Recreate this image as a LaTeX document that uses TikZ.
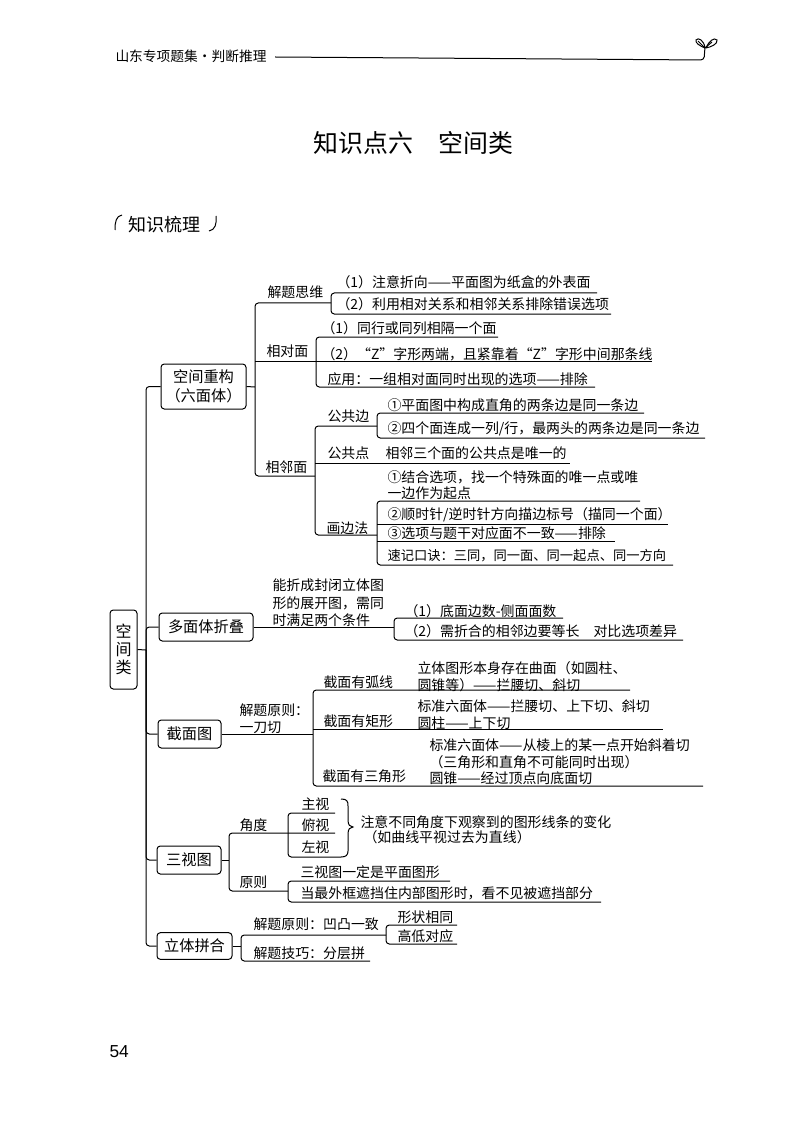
\documentclass[tikz,border=0pt]{standalone}
\usepackage{fontspec}
\setmainfont{Noto Sans CJK SC}
\newfontfamily\pagenofont{Liberation Sans}
\tikzset{every picture/.style={line width=0.75pt}}
\tikzset{
  box/.style={draw,rounded corners=2.5pt,inner sep=0pt,align=center,font=\fontsize{11.4}{14.2}\selectfont},
  txt/.style={anchor=west,inner sep=0pt,text height=9pt,text depth=1.5pt,font=\fontsize{10.45}{12}\selectfont},
  branch/.style={rounded corners=2.5pt}
}
\begin{document}
\begin{tikzpicture}[x=0.75pt,y=0.75pt,yscale=-1,xscale=1]
    \useasboundingbox (0,0) rectangle (800,1130);

    % Page head
    \node [txt,font=\fontsize{10.3}{12}\selectfont] (headtext) at (115,57) {山东专项题集·判断推理};
    \coordinate (headstart) at (275,57);
    \coordinate (headend) at (704,60);
    \draw [branch] (headstart) -- (headend) -- (705,47);
    %Curve Lines
    \draw (705,48) .. controls (700,46) and (695,43) .. (696,40) .. controls (698,37) and (704,40) .. (705,48) ;
    \draw (706,48) .. controls (709,41) and (714,37) .. (717,40) .. controls (718,44) and (711,47) .. (706,48) ;
    \draw (698,41) -- (705,48) -- (712,42) ;
    \node [txt,text height=16pt,text depth=3pt,font=\fontsize{18.7}{20}\selectfont] (maintitle) at (313,144) {知识点六\hspace{1em}空间类};
    \node [txt,text height=12pt,text depth=2pt,font=\fontsize{13.5}{15}\selectfont] (sorttitle) at (128,225) {知识梳理};
    \draw (115,230) .. controls (115,222) and (116,216) .. (122,215) ;
    \draw (216,216) .. controls (217,224) and (215,230) .. (209,231) ;
    \node [anchor=west,inner sep=0pt,font=\pagenofont\fontsize{13}{15}\selectfont] (pageno) at (109,1052) {54};

    % Boxes
    \node [box,minimum width=20.25pt,minimum height=59.25pt,font=\fontsize{12}{13.5}\selectfont] (kongjianlei) at (123.5,649.5) {空\\间\\类};
    \node [box,minimum width=63.75pt,minimum height=33.75pt] (chonggou) at (203.5,386.5) {空间重构\\（六面体）};
    \node [box,minimum width=70.5pt,minimum height=21pt] (zhedie) at (206,627) {多面体折叠};
    \node [box,minimum width=47.25pt,minimum height=21pt] (jiemian) at (189.5,734) {截面图};
    \node [box,minimum width=48pt,minimum height=21pt] (sanshi) at (189,860) {三视图};
    \node [box,minimum width=56.25pt,minimum height=20pt] (pinhe) at (194.5,946) {立体拼合};

    % Spine
    \coordinate (spine) at (146,650);
    \draw (kongjianlei.east) -- (spine) ;
    \draw [branch] (chonggou.west) -| (spine) |- (pinhe.west) ;
    \draw [branch] (zhedie.west) -| (spine) ;
    \draw [branch] (jiemian.west) -| (spine) ;
    \draw [branch] (sanshi.west) -| (spine) ;

    % Text Node
    \node [txt] (siwei) at (267,293) {解题思维};
    \node [txt] (xiangdui) at (266,351) {相对面};
    \node [txt] (xianglin) at (265,467) {相邻面};
    \node [txt] (siwea) at (336,283) {（1）注意折向——平面图为纸盒的外表面};
    \node [txt] (siweb) at (336,305) {（2）利用相对关系和相邻关系排除错误选项};
    \node [txt] (duia) at (321,328) {（1）同行或同列相隔一个面};
    \node [txt] (duib) at (321,354) {（2）“Z”字形两端，且紧靠着“Z”字形中间那条线};
    \node [txt] (duic) at (327,379) {应用：一组相对面同时出现的选项——排除};
    \node [txt] (gbian) at (327,416) {公共边};
    \node [txt] (gbiana) at (387,405) {①平面图中构成直角的两条边是同一条边};
    \node [txt] (gbianb) at (387,428) {②四个面连成一列/行，最两头的两条边是同一条边};
    \node [txt] (gdian) at (327,453) {公共点};
    \node [txt] (gdiana) at (385,453) {相邻三个面的公共点是唯一的};
    \node [txt] (huabian) at (326,528) {画边法};
    \node [txt] (huaa) at (387,477) {①结合选项，找一个特殊面的唯一点或唯};
    \node [txt] (huab) at (387,493) {一边作为起点};
    \node [txt] (huac) at (387,514) {②顺时针/逆时针方向描边标号（描同一个面）};
    \node [txt] (huad) at (387,533) {③选项与题干对应面不一致——排除};
    \node [txt,font=\fontsize{9.95}{12}\selectfont] (huae) at (387,555) {速记口诀：三同，同一面、同一起点、同一方向};

    \node [txt] (zhea) at (272,585) {能折成封闭立体图};
    \node [txt] (zheb) at (272,603) {形的展开图，需同};
    \node [txt] (zhec) at (272,620) {时满足两个条件};
    \node [txt] (zhed) at (404,611) {（1）底面边数-侧面面数};
    \node [txt] (zhee) at (404,631) {（2）需折合的相邻边要等长};
    \node [txt] (zhef) at (593,631) {对比选项差异};

    \node [txt] (yuanze) at (239,710) {解题原则：};
    \node [txt] (yidao) at (239,727) {一刀切};
    \node [txt] (hu) at (323,682) {截面有弧线};
    \node [txt] (juxing) at (323,721) {截面有矩形};
    \node [txt] (sanjiao) at (322,776) {截面有三角形};
    \node [txt] (hua) at (417,668) {立体图形本身存在曲面（如圆柱、};
    \node [txt] (hub) at (417,685) {圆锥等）——拦腰切、斜切};
    \node [txt] (jua) at (417,706) {标准六面体——拦腰切、上下切、斜切};
    \node [txt] (jub) at (417,723) {圆柱——上下切};
    \node [txt] (sana) at (429,745) {标准六面体——从棱上的某一点开始斜着切};
    \node [txt] (sanb) at (429,762) {（三角形和直角不可能同时出现）};
    \node [txt] (sanc) at (429,778) {圆锥——经过顶点向底面切};

    \node [txt] (jiaodu) at (239,825) {角度};
    \node [txt] (zhu) at (301,804) {主视};
    \node [txt] (fu) at (301,825) {俯视};
    \node [txt] (zuo) at (301,847) {左视};
    \node [txt] (zhuyi) at (360,822) {注意不同角度下观察到的图形线条的变化};
    \node [txt] (quxian) at (363,837) {（如曲线平视过去为直线）};
    \node [txt] (shiyuan) at (239,882) {原则};
    \node [txt] (shia) at (300,872) {三视图一定是平面图形};
    \node [txt] (shib) at (300,893) {当最外框遮挡住内部图形时，看不见被遮挡部分};

    \node [txt] (pina) at (253,924) {解题原则：凹凸一致};
    \node [txt] (pinb) at (253,953) {解题技巧：分层拼};
    \node [txt] (pinc) at (397,917) {形状相同};
    \node [txt] (pind) at (397,936) {高低对应};

    % Connectors of the first box
    \coordinate (trunk) at (255,387);
    \coordinate (siweistem) at (331,303);
    \coordinate (duistem) at (316,361);
    \coordinate (linstem) at (315,476);
    \draw (chonggou.east) -- (trunk) ;
    \draw [branch] (siweistem) -| (trunk) |- (linstem) ;
    \coordinate (siweend) at (597,293);
    \coordinate (siwfend) at (611,314);
    \draw [branch] (siweend) -| (siweistem) |- (siwfend) ;
    \coordinate (duiaend) at (498,337);
    \coordinate (duibend) at (652,361);
    \coordinate (duicend) at (595,387);
    \draw (trunk |- duistem) -- (duibend) ;
    \draw [branch] (duiaend) -| (duistem) |- (duicend) ;
    \coordinate (gbstem) at (377,426);
    \coordinate (gbaend) at (644,413);
    \coordinate (gbbend) at (705,438);
    \coordinate (gdend) at (570,463);
    \coordinate (hbstem) at (377,535);
    \draw [branch] (gbstem) -| (linstem) |- (hbstem) ;
    \draw (linstem |- gdend) -- (gdend) ;
    \draw [branch] (gbaend) -| (gbstem) |- (gbbend) ;
    \coordinate (hbaend) at (640,501);
    \coordinate (hbbend) at (668,524);
    \coordinate (hbcend) at (615,541);
    \coordinate (hbdend) at (673,565);
    \draw [branch] (hbaend) -| (hbstem) |- (hbdend) ;
    \draw (hbstem |- hbbend) -- (hbbend) ;
    \draw (hbstem |- hbcend) -- (hbcend) ;

    % Connectors of the second box
    \coordinate (zhestem) at (394,627);
    \coordinate (zheaend) at (563,618);
    \coordinate (zhebend) at (683,640);
    \draw (zhedie.east) -- (zhestem) ;
    \draw [branch] (zheaend) -| (zhestem) |- (zhebend) ;

    % Connectors of the third box
    \coordinate (jiestem) at (313,734);
    \coordinate (huend) at (630,690);
    \coordinate (juend) at (663,729);
    \coordinate (sanend) at (703,786);
    \draw (jiemian.east) -- (jiestem) ;
    \draw [branch] (huend) -| (jiestem) |- (sanend) ;
    \draw (jiestem |- juend) -- (juend) ;

    % Connectors of the fourth box
    \coordinate (shistem) at (229,860);
    \coordinate (jiaoend) at (335,833);
    \coordinate (yuanstem) at (288,891);
    \draw (sanshi.east) -- (shistem) ;
    \draw [branch] (jiaoend) -| (shistem) |- (yuanstem) ;
    \coordinate (viewstem) at (288,835);
    \coordinate (viewtop) at (335,813);
    \coordinate (viewbot) at (341,857);
    \draw [branch] (viewtop) -| (viewstem) |- (viewbot) ;
    %Curve Lines
    \draw (341,799) .. controls (347,799) and (348,801) .. (348,806) -- (348,820) .. controls (348,825) and (350,827) .. (353,827) .. controls (350,827) and (348,829) .. (348,834) -- (348,851) .. controls (348,855) and (346,857) .. (341,857) ;
    \coordinate (yuanaend) at (450,881);
    \coordinate (yuanbend) at (601,902);
    \draw [branch] (yuanaend) -| (yuanstem) |- (yuanbend) ;

    % Connectors of the fifth box
    \coordinate (pinstem) at (241,946);
    \coordinate (pinfork) at (386,935);
    \coordinate (pinbend) at (370,961);
    \coordinate (pincend) at (457,925);
    \coordinate (pindend) at (457,944);
    \draw (pinhe.east) -- (pinstem) ;
    \draw [branch] (pinfork) -| (pinstem) |- (pinbend) ;
    \draw [branch] (pincend) -| (pinfork) |- (pindend) ;

\end{tikzpicture}
\end{document}
